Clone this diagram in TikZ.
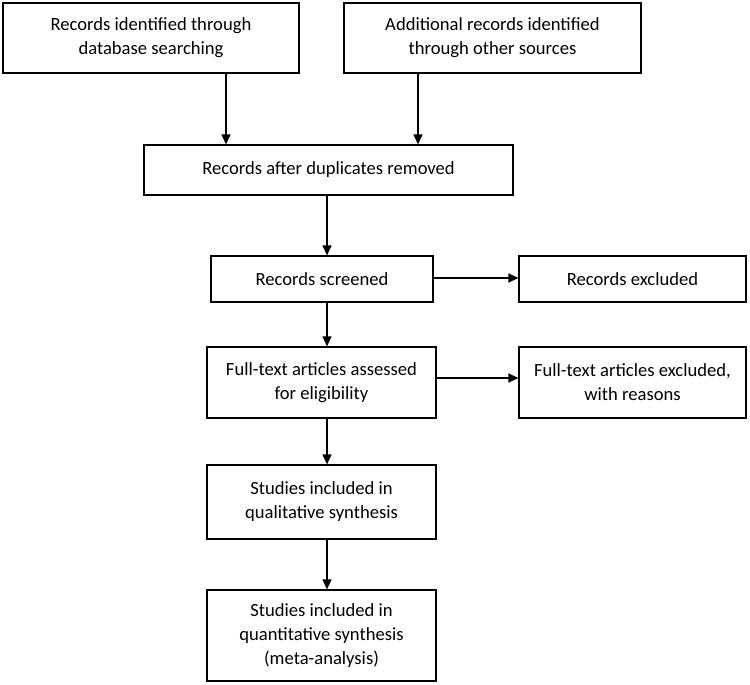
\documentclass[tikz,border=0pt]{standalone}
\usepackage{fontspec}
\setmainfont{Carlito}
\usetikzlibrary{arrows.meta}
\tikzset{
  box/.style={draw=black, line width=1.2pt, fill=white, inner sep=0pt, align=center,
    font=\fontsize{18.6}{24}\selectfont},
  arr/.style={line width=1.2pt, -{Triangle[length=10pt,width=9pt]}}
}
\begin{document}
\begin{tikzpicture}[x=1pt,y=-1pt]
\useasboundingbox (0,0) rectangle (750,685);
% boxes (centres and sizes in pixels of the reference)
\node[box, minimum width=296, minimum height=70] (b1) at (151,38)
  {Records identified through\\database searching};
\node[box, minimum width=297, minimum height=70] (b2) at (492.5,38)
  {Additional records identified\\through other sources};
\node[box, minimum width=369, minimum height=50] (b3) at (328.5,170)
  {Records after duplicates removed};
\node[box, minimum width=222, minimum height=46] (b4) at (322,279)
  {Records screened};
\node[box, minimum width=227, minimum height=46] (b5) at (632.5,279)
  {Records excluded};
\node[box, minimum width=229, minimum height=71] (b6) at (321.5,382.5)
  {Full-text articles assessed\\for eligibility};
\node[box, minimum width=227, minimum height=71] (b7) at (632.5,382.5)
  {Full-text articles excluded,\\with reasons};
\node[box, minimum width=229, minimum height=74] (b8) at (321.5,502)
  {Studies included in\\qualitative synthesis};
\node[box, minimum width=229, minimum height=91] (b9) at (321.5,635.5)
  {Studies included in\\quantitative synthesis\\(meta-analysis)};
% connector guides
\coordinate (c1) at (226,0);
\coordinate (c2) at (418,0);
\coordinate (col) at (327,0);
\coordinate (r1) at (0,278);
\coordinate (r2) at (0,378);
% connectors
\draw[arr] (b1.south -| c1) -- (b3.north -| c1);
\draw[arr] (b2.south -| c2) -- (b3.north -| c2);
\draw[arr] (b3.south -| col) -- (b4.north -| col);
\draw[arr] (b4.south -| col) -- (b6.north -| col);
\draw[arr] (b6.south -| col) -- (b8.north -| col);
\draw[arr] (b8.south -| col) -- (b9.north -| col);
\draw[arr] (b4.east |- r1) -- (b5.west |- r1);
\draw[arr] (b6.east |- r2) -- (b7.west |- r2);
\end{tikzpicture}
\end{document}
